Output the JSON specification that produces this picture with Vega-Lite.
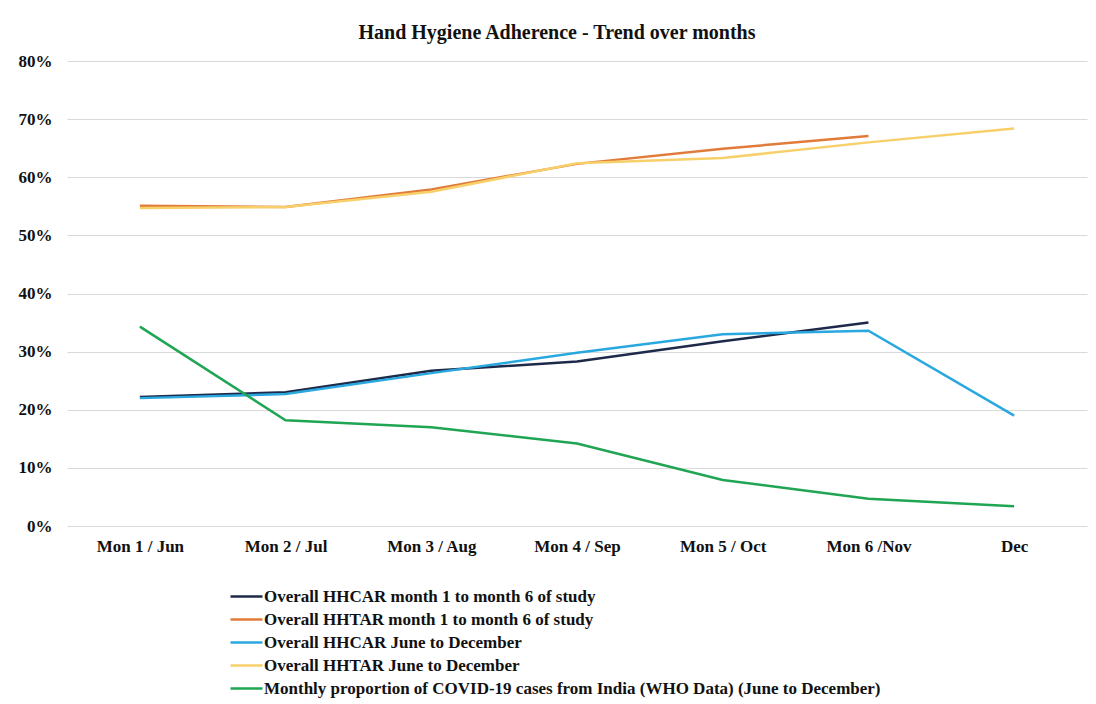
{
  "$schema": "https://vega.github.io/schema/vega-lite/v6.json",
  "autosize": {"type": "none"},
  "width": 1020,
  "height": 465,
  "padding": {"left": 67, "top": 61, "right": 9, "bottom": 178},
  "background": "white",
  "title": {
    "text": "Hand Hygiene Adherence  - Trend over months",
    "font": "Liberation Serif",
    "fontSize": 20,
    "fontWeight": "bold",
    "color": "#111111",
    "anchor": "middle",
    "dx": -20,
    "offset": 9
  },
  "data": {
    "values": [
      {"month": "Mon 1 / Jun", "series": "Overall HHCAR month 1 to month 6 of study", "value": 22.2},
      {"month": "Mon 2 / Jul", "series": "Overall HHCAR month 1 to month 6 of study", "value": 23.0},
      {"month": "Mon 3 / Aug", "series": "Overall HHCAR month 1 to month 6 of study", "value": 26.7},
      {"month": "Mon 4 / Sep", "series": "Overall HHCAR month 1 to month 6 of study", "value": 28.3},
      {"month": "Mon 5 / Oct", "series": "Overall HHCAR month 1 to month 6 of study", "value": 31.8},
      {"month": "Mon 6 /Nov", "series": "Overall HHCAR month 1 to month 6 of study", "value": 35.0},

      {"month": "Mon 1 / Jun", "series": "Overall HHTAR month 1 to month 6 of study", "value": 55.1},
      {"month": "Mon 2 / Jul", "series": "Overall HHTAR month 1 to month 6 of study", "value": 54.9},
      {"month": "Mon 3 / Aug", "series": "Overall HHTAR month 1 to month 6 of study", "value": 57.9},
      {"month": "Mon 4 / Sep", "series": "Overall HHTAR month 1 to month 6 of study", "value": 62.3},
      {"month": "Mon 5 / Oct", "series": "Overall HHTAR month 1 to month 6 of study", "value": 64.9},
      {"month": "Mon 6 /Nov", "series": "Overall HHTAR month 1 to month 6 of study", "value": 67.1},

      {"month": "Mon 1 / Jun", "series": "Overall HHCAR June to December", "value": 22.0},
      {"month": "Mon 2 / Jul", "series": "Overall HHCAR June to December", "value": 22.7},
      {"month": "Mon 3 / Aug", "series": "Overall HHCAR June to December", "value": 26.3},
      {"month": "Mon 4 / Sep", "series": "Overall HHCAR June to December", "value": 29.8},
      {"month": "Mon 5 / Oct", "series": "Overall HHCAR June to December", "value": 33.0},
      {"month": "Mon 6 /Nov", "series": "Overall HHCAR June to December", "value": 33.6},
      {"month": "Dec", "series": "Overall HHCAR June to December", "value": 19.0},

      {"month": "Mon 1 / Jun", "series": "Overall HHTAR June to December", "value": 54.7},
      {"month": "Mon 2 / Jul", "series": "Overall HHTAR June to December", "value": 54.9},
      {"month": "Mon 3 / Aug", "series": "Overall HHTAR June to December", "value": 57.5},
      {"month": "Mon 4 / Sep", "series": "Overall HHTAR June to December", "value": 62.4},
      {"month": "Mon 5 / Oct", "series": "Overall HHTAR June to December", "value": 63.3},
      {"month": "Mon 6 /Nov", "series": "Overall HHTAR June to December", "value": 66.0},
      {"month": "Dec", "series": "Overall HHTAR June to December", "value": 68.4},

      {"month": "Mon 1 / Jun", "series": "Monthly proportion of COVID-19 cases from India (WHO Data) (June to December)", "value": 34.3},
      {"month": "Mon 2 / Jul", "series": "Monthly proportion of COVID-19 cases from India (WHO Data) (June to December)", "value": 18.2},
      {"month": "Mon 3 / Aug", "series": "Monthly proportion of COVID-19 cases from India (WHO Data) (June to December)", "value": 17.0},
      {"month": "Mon 4 / Sep", "series": "Monthly proportion of COVID-19 cases from India (WHO Data) (June to December)", "value": 14.2},
      {"month": "Mon 5 / Oct", "series": "Monthly proportion of COVID-19 cases from India (WHO Data) (June to December)", "value": 7.9},
      {"month": "Mon 6 /Nov", "series": "Monthly proportion of COVID-19 cases from India (WHO Data) (June to December)", "value": 4.7},
      {"month": "Dec", "series": "Monthly proportion of COVID-19 cases from India (WHO Data) (June to December)", "value": 3.4}
    ]
  },
  "mark": {"type": "line", "strokeWidth": 2.5},
  "encoding": {
    "x": {
      "field": "month",
      "type": "ordinal",
      "sort": ["Mon 1 / Jun", "Mon 2 / Jul", "Mon 3 / Aug", "Mon 4 / Sep", "Mon 5 / Oct", "Mon 6 /Nov", "Dec"],
      "scale": {"type": "point", "padding": 0.5},
      "axis": {
        "title": null,
        "labelAngle": 0,
        "ticks": false,
        "domain": false,
        "grid": false,
        "labelPadding": 12,
        "labelFont": "Liberation Serif",
        "labelFontSize": 17,
        "labelFontWeight": "bold",
        "labelColor": "#111111"
      }
    },
    "y": {
      "field": "value",
      "type": "quantitative",
      "scale": {"domain": [0, 80], "nice": false},
      "axis": {
        "title": null,
        "values": [0, 10, 20, 30, 40, 50, 60, 70, 80],
        "labelExpr": "datum.value + '%'",
        "ticks": false,
        "domain": false,
        "grid": true,
        "gridColor": "#d9d9d9",
        "gridWidth": 1.2,
        "labelPadding": 15,
        "labelFont": "Liberation Serif",
        "labelFontSize": 17,
        "labelFontWeight": "bold",
        "labelColor": "#111111"
      }
    },
    "color": {
      "field": "series",
      "type": "nominal",
      "scale": {
        "domain": [
          "Overall HHCAR month 1 to month 6 of study",
          "Overall HHTAR month 1 to month 6 of study",
          "Overall HHCAR June to December",
          "Overall HHTAR June to December",
          "Monthly proportion of COVID-19 cases from India (WHO Data) (June to December)"
        ],
        "range": ["#1f2a4a", "#e07b39", "#29a8e0", "#f7d06a", "#1fa553"]
      },
      "legend": {
        "title": null,
        "orient": "none",
        "legendX": 168,
        "legendY": 524,
        "direction": "vertical",
        "symbolType": "M-1.6,0H1.6",
        "symbolSize": 400,
        "symbolStrokeWidth": 2.5,
        "rowPadding": 3,
        "labelOffset": 6,
        "labelFont": "Liberation Serif",
        "labelFontSize": 17,
        "labelFontWeight": "bold",
        "labelColor": "#111111",
        "labelLimit": 900
      }
    }
  },
  "config": {"view": {"stroke": null}}
}
